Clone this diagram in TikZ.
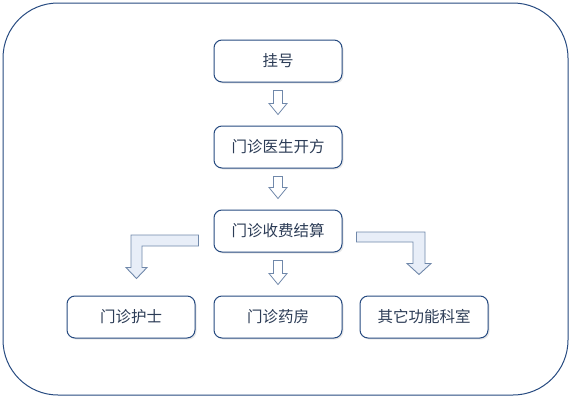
\documentclass[tikz,border=0pt]{standalone}
\usepackage{fontspec}
\newfontfamily\cjk{Noto Sans CJK SC}
\usetikzlibrary{positioning, calc, shadows}

\definecolor{boxblue}{RGB}{38,74,128}
\definecolor{txtblue}{RGB}{44,60,86}
\definecolor{arrowgray}{RGB}{112,136,170}
\definecolor{arrowfill}{RGB}{232,238,248}

\tikzset{
  stepbox/.style={draw=boxblue, line width=1pt, rounded corners=8pt, fill=white,
    minimum width=128pt, minimum height=42pt, text=txtblue,
    font=\cjk\fontsize{15.5}{18}\selectfont,
    drop shadow={shadow xshift=1.5pt, shadow yshift=-1.5pt, opacity=0.18}},
  hollow/.style={draw=arrowgray, line width=0.8pt, fill=white, line join=miter},
  bent/.style={draw=arrowgray, line width=0.9pt, fill=arrowfill, line join=miter}
}

% hollow arrow straight down from one box to the next
\newcommand{\hollowdown}[2]{%
  \draw[hollow] let \p1=(#1.south), \p2=(#2.north) in
    (\x1-4.5pt,\y1-8pt) -- (\x1+4.5pt,\y1-8pt) -- (\x1+4.5pt,\y2+22pt)
    -- (\x1+9pt,\y2+22pt) -- (\x1,\y2+11pt) -- (\x1-9pt,\y2+22pt)
    -- (\x1-4.5pt,\y2+22pt) -- cycle;}

\begin{document}
\begin{tikzpicture}[x=1pt, y=-1pt]
\useasboundingbox (0,0) rectangle (576,402);
\draw[boxblue, line width=1pt, rounded corners=55pt] (3,3) rectangle (568,395);

\node[stepbox] (reg) at (278,61) {挂号};
\node[stepbox, below=43pt of reg] (doctor) {门诊医生开方};
\node[stepbox, below=41pt of doctor] (fee) {门诊收费结算};
\node[stepbox, below=43pt of fee] (pharmacy) {门诊药房};
\node[stepbox, left=18pt of pharmacy] (nurse) {门诊护士};
\node[stepbox, right=17pt of pharmacy] (other) {其它功能科室};

\hollowdown{reg}{doctor}
\hollowdown{doctor}{fee}
\hollowdown{fee}{pharmacy}

% bent arrows to the side boxes
\draw[bent] let \p1=(fee.west), \p2=(nurse.north) in
  (\x1-15pt,\y1-4pt) -- (\x2,\y1-4pt) -- (\x2,\y2+28pt) -- (\x2-5pt,\y2+28pt)
  -- (\x2+5.5pt,\y2+17pt) -- (\x2+16pt,\y2+28pt) -- (\x2+11pt,\y2+28pt)
  -- (\x2+11pt,\y1-15pt) -- (\x1-15pt,\y1-15pt) -- cycle;
\draw[bent] let \p1=(fee.east), \p2=(other.north) in
  (\x1+14pt,\y1-1pt) -- (\x2+1pt,\y1-1pt) -- (\x2+1pt,\y2+32pt) -- (\x2+7pt,\y2+32pt)
  -- (\x2-5pt,\y2+21pt) -- (\x2-17pt,\y2+32pt) -- (\x2-11pt,\y2+32pt)
  -- (\x2-11pt,\y1-11pt) -- (\x1+14pt,\y1-11pt) -- cycle;
\end{tikzpicture}
\end{document}
